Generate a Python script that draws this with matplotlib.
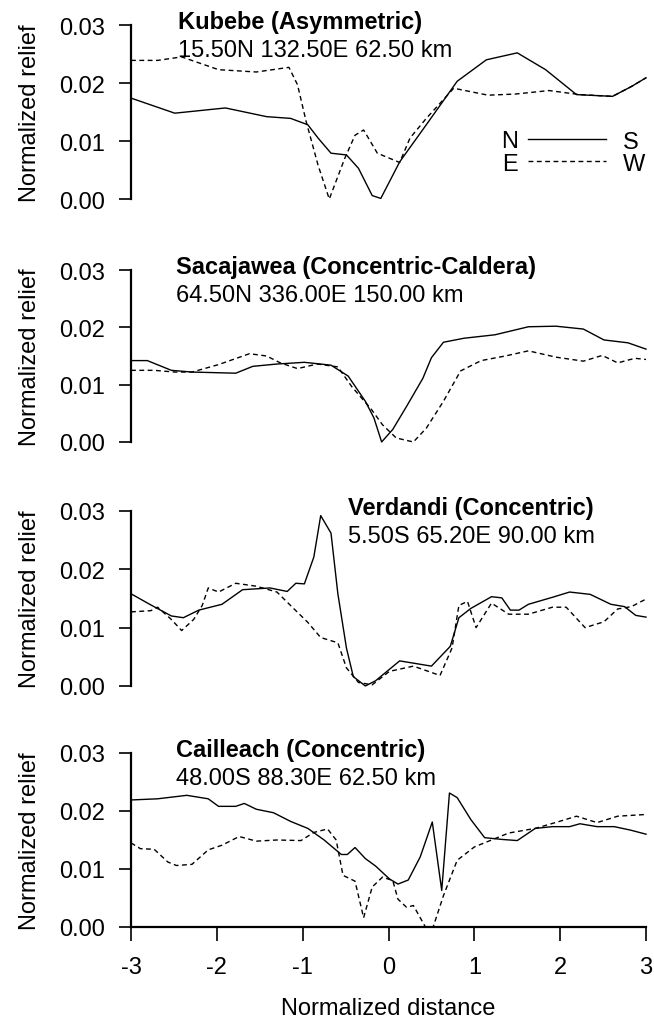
import matplotlib
matplotlib.use("Agg")
import matplotlib.pyplot as plt
from matplotlib.lines import Line2D

plt.rcParams['font.family'] = ['Liberation Sans', 'DejaVu Sans']
plt.rcParams['font.size'] = 17

# Kubebe
kub_ns_x = [-3.0, -2.49, -1.90, -1.42, -1.14, -0.94, -0.82, -0.67, -0.49, -0.35, -0.19, -0.09,
            0.13, 0.44, 0.80, 1.14, 1.50, 1.83, 2.19, 2.61, 2.83, 3.0]
kub_ns_y = [0.0174, 0.0148, 0.0157, 0.0142, 0.0139, 0.0128, 0.0105, 0.0079, 0.0076, 0.0053, 0.0006, 0.0001,
            0.0064, 0.0128, 0.0203, 0.0240, 0.0252, 0.0223, 0.0180, 0.0177, 0.0194, 0.0209]
kub_ew_x = [-3.0, -2.69, -2.41, -1.98, -1.54, -1.16, -1.06, -0.96, -0.82, -0.69, -0.51, -0.39, -0.29,
            -0.13, 0.13, 0.25, 0.44, 0.76, 1.16, 1.48, 1.87, 2.23, 2.61, 2.83, 3.0]
kub_ew_y = [0.0239, 0.0239, 0.0245, 0.0223, 0.0219, 0.0227, 0.0197, 0.0134, 0.0058, 0.0000, 0.0070, 0.0110, 0.0119,
            0.0079, 0.0063, 0.0105, 0.0139, 0.0191, 0.0179, 0.0181, 0.0187, 0.0180, 0.0177, 0.0194, 0.0209]

# Sacajawea
sac_ns_x = [-3.0, -2.81, -2.53, -2.29, -1.78, -1.58, -1.30, -0.98, -0.67, -0.47, -0.27, -0.17, -0.08,
            0.05, 0.21, 0.40, 0.50, 0.64, 0.88, 1.24, 1.63, 1.95, 2.27, 2.51, 2.79, 3.0]
sac_ns_y = [0.0142, 0.0142, 0.0125, 0.0122, 0.0120, 0.0132, 0.0136, 0.0139, 0.0134, 0.0115, 0.0071, 0.0042, 0.0000,
            0.0022, 0.0062, 0.0111, 0.0147, 0.0174, 0.0181, 0.0187, 0.0201, 0.0202, 0.0197, 0.0178, 0.0173, 0.0162]
sac_ew_x = [-3.0, -2.73, -2.49, -2.29, -1.98, -1.62, -1.42, -1.26, -1.06, -0.83, -0.59, -0.43, -0.31, -0.21,
            -0.07, 0.09, 0.29, 0.44, 0.64, 0.84, 1.08, 1.36, 1.63, 1.95, 2.27, 2.49, 2.67, 2.87, 3.0]
sac_ew_y = [0.0125, 0.0125, 0.0122, 0.0122, 0.0135, 0.0154, 0.0150, 0.0138, 0.0128, 0.0136, 0.0131, 0.0097, 0.0076, 0.0059,
            0.0030, 0.0007, 0.0000, 0.0024, 0.0071, 0.0124, 0.0142, 0.0150, 0.0159, 0.0148, 0.0141, 0.0151, 0.0138, 0.0146, 0.0144]

# Verdandi
ver_ns_x = [-3.0, -2.77, -2.53, -2.39, -2.21, -1.94, -1.70, -1.38, -1.18, -1.08, -0.98, -0.87, -0.79, -0.67,
            -0.59, -0.49, -0.41, -0.27, -0.15, 0.13, 0.50, 0.72, 0.82, 0.96, 1.20, 1.32, 1.42, 1.52, 1.63,
            1.91, 2.11, 2.35, 2.59, 2.75, 2.88, 3.0]
ver_ns_y = [0.0158, 0.0139, 0.0120, 0.0117, 0.0130, 0.0140, 0.0165, 0.0168, 0.0162, 0.0176, 0.0175, 0.0221, 0.0292, 0.0262,
            0.0158, 0.0065, 0.0016, 0.0000, 0.0009, 0.0043, 0.0034, 0.0068, 0.0117, 0.0133, 0.0153, 0.0151, 0.0130, 0.0130, 0.0140,
            0.0152, 0.0161, 0.0157, 0.0140, 0.0136, 0.0121, 0.0118]
ver_ew_x = [-3.0, -2.77, -2.69, -2.53, -2.41, -2.27, -2.17, -2.10, -1.98, -1.78, -1.54, -1.30, -1.10, -0.94,
            -0.79, -0.59, -0.49, -0.35, -0.19, 0.01, 0.29, 0.60, 0.74, 0.82, 0.92, 1.02, 1.20, 1.40, 1.63,
            1.91, 2.07, 2.29, 2.51, 2.67, 2.83, 3.0]
ver_ew_y = [0.0127, 0.0129, 0.0135, 0.0114, 0.0095, 0.0114, 0.0138, 0.0168, 0.0161, 0.0176, 0.0171, 0.0161, 0.0132, 0.0109,
            0.0083, 0.0074, 0.0031, 0.0006, 0.0002, 0.0025, 0.0034, 0.0018, 0.0065, 0.0138, 0.0145, 0.0100, 0.0142, 0.0123, 0.0123,
            0.0135, 0.0135, 0.0100, 0.0110, 0.0132, 0.0136, 0.0149]

# Cailleach
cai_ns_x = [-3.0, -2.69, -2.35, -2.10, -1.98, -1.78, -1.68, -1.54, -1.34, -1.14, -0.94, -0.75, -0.55, -0.48,
            -0.39, -0.27, -0.15, 0.01, 0.11, 0.23, 0.37, 0.51, 0.62, 0.71, 0.80, 0.96, 1.12, 1.32, 1.50,
            1.71, 1.91, 2.11, 2.23, 2.43, 2.63, 2.82, 3.0]
cai_ns_y = [0.0219, 0.0221, 0.0227, 0.0221, 0.0208, 0.0208, 0.0213, 0.0203, 0.0197, 0.0182, 0.0170, 0.0150, 0.0125, 0.0125,
            0.0137, 0.0118, 0.0105, 0.0083, 0.0074, 0.0081, 0.0121, 0.0181, 0.0063, 0.0231, 0.0223, 0.0185, 0.0154, 0.0151, 0.0149,
            0.0170, 0.0173, 0.0173, 0.0178, 0.0173, 0.0173, 0.0167, 0.0160]
cai_ew_x = [-3.0, -2.89, -2.73, -2.57, -2.47, -2.29, -2.10, -1.94, -1.74, -1.54, -1.30, -1.02, -0.87, -0.71,
            -0.61, -0.53, -0.39, -0.29, -0.19, -0.07, 0.05, 0.11, 0.21, 0.29, 0.43, 0.52, 0.64, 0.80, 1.00,
            1.20, 1.40, 1.71, 1.99, 2.19, 2.43, 2.67, 3.0]
cai_ew_y = [0.0145, 0.0135, 0.0134, 0.0112, 0.0106, 0.0108, 0.0133, 0.0141, 0.0156, 0.0148, 0.0150, 0.0149, 0.0163, 0.0169,
            0.0150, 0.0089, 0.0079, 0.0016, 0.0069, 0.0086, 0.0080, 0.0048, 0.0034, 0.0037, 0.0000, 0.0000, 0.0054, 0.0115, 0.0138,
            0.0150, 0.0162, 0.0170, 0.0182, 0.0191, 0.0180, 0.0191, 0.0194]

names = ["Kubebe (Asymmetric)", "Sacajawea (Concentric-Caldera)",
         "Verdandi (Concentric)", "Cailleach (Concentric)"]
infos = ["15.50N 132.50E 62.50 km", "64.50N 336.00E 150.00 km",
         "5.50S 65.20E 90.00 km", "48.00S 88.30E 62.50 km"]
profiles = [(kub_ns_x, kub_ns_y, kub_ew_x, kub_ew_y),
            (sac_ns_x, sac_ns_y, sac_ew_x, sac_ew_y),
            (ver_ns_x, ver_ns_y, ver_ew_x, ver_ew_y),
            (cai_ns_x, cai_ns_y, cai_ew_x, cai_ew_y)]
yticks = [0.0, 0.01, 0.02, 0.03]
xticks = [-3, -2, -1, 0, 1, 2, 3]

# axes boxes in figure fraction (left, bottom, width, height)
boxes = [(0.2003, 0.8039, 0.7875, 0.1706),
         (0.2003, 0.5657, 0.7875, 0.1686),
         (0.2003, 0.3265, 0.7875, 0.1716),
         (0.2003, 0.0902, 0.7875, 0.1706)]
title_x = [0.091, 0.087, 0.421, 0.087]

dash = (0, (3.5, 2.5))

fig = plt.figure(figsize=(6.54, 10.2), dpi=100)
for i, (nsx, nsy, ewx, ewy) in enumerate(profiles):
    ax = fig.add_axes(boxes[i])
    ax.plot(nsx, nsy, color='black', lw=1.0, clip_on=False)
    ax.plot(ewx, ewy, color='black', lw=1.0, linestyle=dash, clip_on=False)
    ax.set_xlim(-3, 3)
    ax.set_ylim(0, 0.03)
    ax.set_yticks(yticks)
    ax.set_yticklabels([f"{v:.2f}" for v in yticks])
    ax.tick_params(axis='y', direction='out', length=8.5, width=1.2, pad=10)
    for s in ['top', 'right']:
        ax.spines[s].set_visible(False)
    ax.spines['left'].set_linewidth(1.6)
    ax.set_ylabel("Normalized relief", fontsize=17)
    ax.yaxis.set_label_coords(-0.175, 0.5)

    ax.text(title_x[i], 0.985, names[i], transform=ax.transAxes,
            fontweight='bold', fontsize=17, va='baseline', ha='left')
    ax.text(title_x[i], 0.82, infos[i], transform=ax.transAxes,
            fontsize=17, va='baseline', ha='left')

    if i < 3:
        ax.spines['bottom'].set_visible(False)
        ax.set_xticks([])
    else:
        ax.spines['bottom'].set_linewidth(1.6)
        ax.set_xticks(xticks)
        ax.set_xticklabels([str(v) for v in xticks])
        ax.tick_params(axis='x', direction='out', length=10, width=1.2, pad=11)
        ax.set_xlabel("Normalized distance", fontsize=17)
        ax.xaxis.set_label_coords(0.5, -0.40)

    if i == 0:
        handles = [Line2D([], [], color='black', lw=1.0),
                   Line2D([], [], color='black', lw=1.0, linestyle=dash)]
        ax.legend(handles, ['S', 'W'], loc='center left', bbox_to_anchor=(0.771, 0.267),
                  frameon=False, handlelength=3.3, handletextpad=0.7, labelspacing=0.0,
                  borderpad=0, borderaxespad=0, fontsize=17)
        ax.text(0.752, 0.333, "N", transform=ax.transAxes, ha='right', va='center', fontsize=17)
        ax.text(0.752, 0.200, "E", transform=ax.transAxes, ha='right', va='center', fontsize=17)

fig.savefig("out.png", dpi=100)
